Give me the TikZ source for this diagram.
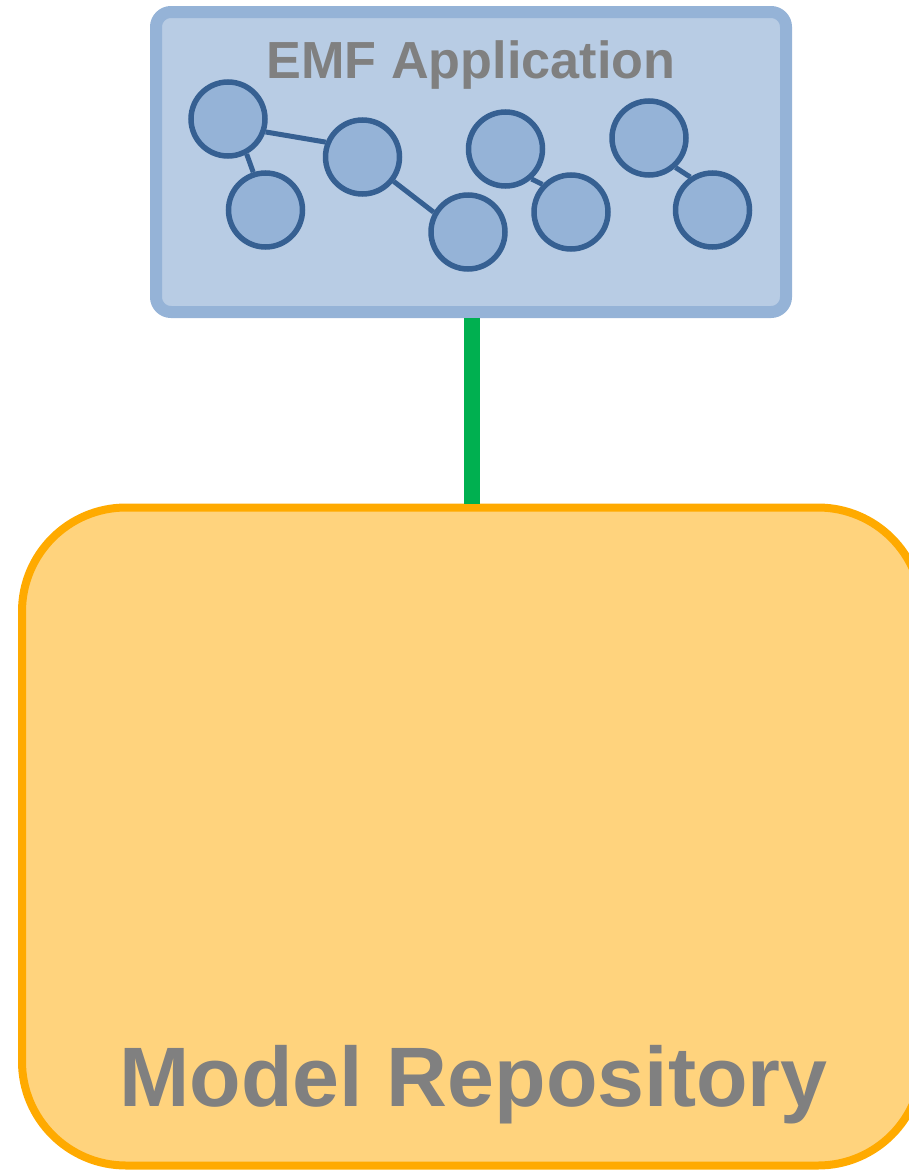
\documentclass[tikz,border=0pt]{standalone}
\usepackage{fontspec}
\setmainfont{Liberation Sans}
\definecolor{appfill}{HTML}{B8CCE4}
\definecolor{appline}{HTML}{95B3D7}
\definecolor{objline}{HTML}{366092}
\definecolor{repofill}{HTML}{FFD37D}
\definecolor{repoline}{HTML}{FFAA00}
\definecolor{linkgreen}{HTML}{00B050}
\definecolor{labelgray}{HTML}{808080}
\tikzset{
    appbox/.style={draw=appline, fill=appfill, line width=12pt, rounded corners=15pt, inner sep=0pt, minimum width=630pt, minimum height=300pt},
    repobox/.style={draw=repoline, fill=repofill, line width=8pt, rounded corners=104pt, inner sep=0pt, minimum width=900pt, minimum height=658pt},
    obj/.style={circle, draw=objline, fill=appline, line width=5.5pt, inner sep=0pt, minimum size=74pt},
    objlink/.style={draw=objline, line width=5pt},
    applabel/.style={anchor=base, inner sep=0pt, text=labelgray, font=\fontsize{52.2}{60}\selectfont\bfseries},
    repolabel/.style={anchor=base, inner sep=0pt, text=labelgray, font=\fontsize{84.4}{96}\selectfont\bfseries}
}

\begin{document}
\begin{tikzpicture}[x=1pt,y=-1pt]
                    \useasboundingbox (0,0) rectangle (909,1170);
                    
                    \node[repobox] (repo) at (472,836.5) {}; % repository
                    \node[appbox] (app) at (471,162) {}; % application
                    
                    \draw[draw=linkgreen, line width=16pt] (repo |- app.south) -- (repo.north); % connection
                    
                    \node[applabel] (apptitle) at (471,78.7) {EMF Application};
                    \node[repolabel] (repotitle) at (473.5,1106) {Model Repository};
                    
                    \node[obj] (obja) at (228,119) {};
                    \node[obj] (objb) at (265.5,210) {};
                    \node[obj] (objc) at (362.5,157) {};
                    \node[obj] (objd) at (468,232) {};
                    \node[obj] (obje) at (505.5,149) {};
                    \node[obj] (objf) at (571,212) {};
                    \node[obj] (objg) at (649,138) {};
                    \node[obj] (objh) at (712.5,210) {};
                    
                    \draw[objlink] (obja.-62) -- (objb.108);
                    \draw[objlink] (obja.-19) -- (objc.158);
                    \draw[objlink] (objc.-38) -- (objd.150);
                    \draw[objlink] (obje.-49) -- (objf.136);
                    \draw[objlink] (objg.-48) -- (objh.124);
                \end{tikzpicture}
\end{document}
